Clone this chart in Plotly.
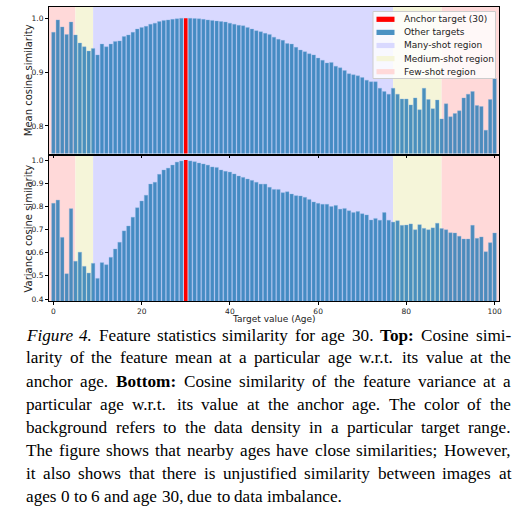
import plotly.graph_objects as go
from plotly.subplots import make_subplots

ages = list(range(0, 101))
anchor_age = 30

mean_sim = [
    0.974, 0.997, 0.984, 0.970, 0.993, 0.969, 0.954, 0.947, 0.939, 0.944,
    0.932, 0.952, 0.947, 0.952, 0.957, 0.958, 0.966, 0.969, 0.974, 0.980,
    0.983, 0.985, 0.989, 0.991, 0.994, 0.996, 0.997, 0.998, 0.999, 1.000,
    1.000, 1.000, 0.9995, 0.999, 0.998, 0.997, 0.996, 0.995, 0.994, 0.993,
    0.991, 0.989, 0.987, 0.986, 0.983, 0.980, 0.977, 0.975, 0.972, 0.970,
    0.965, 0.961, 0.959, 0.953, 0.952, 0.946, 0.941, 0.938, 0.934, 0.932,
    0.926, 0.922, 0.917, 0.918, 0.911, 0.908, 0.903, 0.897, 0.895, 0.893,
    0.890, 0.885, 0.882, 0.882, 0.870, 0.864, 0.859, 0.870, 0.859, 0.850,
    0.850, 0.839, 0.852, 0.830, 0.870, 0.849, 0.832, 0.848, 0.813, 0.841,
    0.817, 0.823, 0.828, 0.852, 0.859, 0.864, 0.838, 0.836, 0.792, 0.849,
    0.888,
]

var_sim = [
    0.813, 0.827, 0.666, 0.509, 0.790, 0.563, 0.602, 0.541, 0.512, 0.554,
    0.489, 0.557, 0.548, 0.580, 0.616, 0.645, 0.694, 0.715, 0.753, 0.794,
    0.823, 0.848, 0.896, 0.904, 0.938, 0.957, 0.965, 0.978, 0.991, 0.996,
    1.000, 0.996, 0.993, 0.987, 0.983, 0.978, 0.970, 0.968, 0.957, 0.951,
    0.948, 0.940, 0.931, 0.925, 0.918, 0.912, 0.904, 0.896, 0.896, 0.882,
    0.873, 0.873, 0.859, 0.863, 0.853, 0.846, 0.845, 0.839, 0.830, 0.819,
    0.813, 0.809, 0.809, 0.799, 0.804, 0.788, 0.791, 0.781, 0.773, 0.778,
    0.768, 0.763, 0.741, 0.748, 0.740, 0.773, 0.740, 0.732, 0.738, 0.718,
    0.719, 0.724, 0.699, 0.721, 0.705, 0.699, 0.707, 0.727, 0.704, 0.699,
    0.686, 0.685, 0.671, 0.659, 0.659, 0.718, 0.662, 0.668, 0.604, 0.643,
    0.685,
]

# region boundaries (age ranges) and their names
regions = [(-1, 5, "few"), (5, 9, "medium"), (9, 77, "many"), (77, 88, "medium"), (88, 101, "few")]
region_colors = {"many": "rgb(217,217,255)", "medium": "rgb(245,245,217)", "few": "rgb(255,217,217)"}

x_ticks = [0, 20, 40, 60, 80, 100]
top_yticks = [0.8, 0.9, 1.0]
bot_yticks = [0.4, 0.5, 0.6, 0.7, 0.8, 0.9, 1.0]

legend_labels = ["Anchor target (30)", "Other targets", "Many-shot region", "Medium-shot region", "Few-shot region"]

caption_lines = [
    "<i>Figure 4.</i> Feature statistics similarity for age 30. <b>Top:</b> Cosine simi-",
    "larity of the feature mean at a particular age w.r.t. its value at the",
    "anchor age. <b>Bottom:</b> Cosine similarity of the feature variance at a",
    "particular age w.r.t. its value at the anchor age. The color of the",
    "background refers to the data density in a particular target range.",
    "The figure shows that nearby ages have close similarities; However,",
    "it also shows that there is unjustified similarity between images at",
    "ages 0 to 6 and age 30, due to data imbalance.",
]

BAR_COLOR = "rgba(31,119,180,0.8)"
ANCHOR_COLOR = "rgb(255,0,0)"

W, H = 524, 518
ML, MR, MT, MB = 49, 25, 7, 217
PW, PH = W - ML - MR, H - MT - MB


def px(X):
    return (X - ML) / PW


def py(Y):
    return (H - MB - Y) / PH


# Times-Roman advance widths (per 1000 em) used to justify the caption lines
TIMES = {
    " ": 250, "!": 333, "(": 333, ")": 333, ",": 250, "-": 333, ".": 250, "/": 278, ":": 278, ";": 278,
    "A": 722, "B": 667, "C": 667, "D": 722, "E": 611, "F": 556, "G": 722, "H": 722, "I": 333, "J": 389,
    "K": 722, "L": 611, "M": 889, "N": 722, "O": 722, "P": 556, "Q": 722, "R": 667, "S": 556, "T": 611,
    "U": 722, "V": 722, "W": 944, "X": 722, "Y": 722, "Z": 611,
    "a": 444, "b": 500, "c": 444, "d": 500, "e": 444, "f": 333, "g": 500, "h": 500, "i": 278, "j": 278,
    "k": 500, "l": 278, "m": 778, "n": 500, "o": 500, "p": 500, "q": 500, "r": 333, "s": 389, "t": 278,
    "u": 500, "v": 500, "w": 722, "x": 500, "y": 500, "z": 444,
}
TIMES_BOLD = {"T": 667, "o": 500, "p": 556, ":": 333, "B": 667, "t": 333, "m": 833}
TIMES_ITAL = {"F": 611, "i": 278, "g": 500, "u": 500, "r": 389, "e": 444, "4": 500, ".": 250}
for d in "0123456789":
    TIMES[d] = 500


def word_width(word, size):
    style = None
    raw = word
    if word.startswith("<b>"):
        style, raw = "b", word[3:-4]
    elif word.startswith("<i>"):
        style, raw = "i", word[3:-4]
    table = TIMES_BOLD if style == "b" else TIMES_ITAL if style == "i" else TIMES
    return sum(table.get(c, TIMES.get(c, 500)) for c in raw) * size / 1000.0


def split_words(line):
    merged = []
    buf = None
    for tok in line.split(" "):
        if buf is not None:
            buf += " " + tok
            if tok.endswith("</i>") or tok.endswith("</b>"):
                merged.append(buf)
                buf = None
            continue
        if (tok.startswith("<i>") and not tok.endswith("</i>")) or (tok.startswith("<b>") and not tok.endswith("</b>")):
            buf = tok
            continue
        merged.append(tok)
    words = []
    for m in merged:
        if m.startswith("<i>") and " " in m:
            for w in m[3:-4].split(" "):
                words.append("<i>" + w + "</i>")
        else:
            words.append(m)
    return words


fig = make_subplots(rows=2, cols=1, shared_xaxes=False)
top_dom = [py(153.5), 1.0]
bot_dom = [0.0, py(156)]

for row, vals in ((1, mean_sim), (2, var_sim)):
    ox = [a for a in ages if a != anchor_age]
    oy = [v for a, v in zip(ages, vals) if a != anchor_age]
    fig.add_trace(go.Bar(x=ox, y=oy, width=0.8, name=legend_labels[1], showlegend=False,
                         marker=dict(color=BAR_COLOR, line=dict(width=0.6, color="rgba(140,180,225,0.6)"))),
                  row=row, col=1)
    fig.add_trace(go.Bar(x=[anchor_age], y=[vals[ages.index(anchor_age)]], width=0.8,
                         name=legend_labels[0], showlegend=False,
                         marker=dict(color=ANCHOR_COLOR, line=dict(width=0))),
                  row=row, col=1)

shapes = []
for xr, yr in (("x", "y domain"), ("x2", "y2 domain")):
    for x0, x1, kind in regions:
        shapes.append(dict(type="rect", xref=xr, yref=yr, x0=x0, x1=x1, y0=0, y1=1,
                           fillcolor=region_colors[kind], line=dict(width=0), layer="below"))

# legend box (drawn manually to match compact matplotlib legend)
shapes.append(dict(type="rect", xref="paper", yref="paper", x0=px(373), x1=px(495.5), y0=py(78.5), y1=py(11.5),
                   fillcolor="rgba(255,255,255,0.8)", line=dict(color="rgb(204,204,204)", width=1), layer="above"))
legend_patch_colors = [ANCHOR_COLOR, "rgb(75,146,195)", region_colors["many"], region_colors["medium"], region_colors["few"]]
annotations = []
row_y = [19.3, 32.4, 45.5, 58.6, 71.7]
for lab, col, Y in zip(legend_labels, legend_patch_colors, row_y):
    shapes.append(dict(type="rect", xref="paper", yref="paper", x0=px(376.5), x1=px(394.5), y0=py(Y + 2.6), y1=py(Y - 2.6),
                       fillcolor=col, line=dict(width=0), layer="above"))
    annotations.append(dict(text=lab, xref="paper", yref="paper", x=px(401.5), y=py(Y), xanchor="left", yanchor="middle",
                            showarrow=False, font=dict(family="DejaVu Sans", size=9, color="#222")))

# y-axis titles
annotations.append(dict(text="Mean cosine similarity", xref="paper", yref="paper", x=0, xshift=28 - ML,
                        y=(top_dom[0] + top_dom[1]) / 2, textangle=-90, showarrow=False,
                        xanchor="center", yanchor="middle",
                        font=dict(family="DejaVu Sans", size=10, color="#222")))
annotations.append(dict(text="Variance cosine similarity", xref="paper", yref="paper", x=0, xshift=28 - ML,
                        y=(bot_dom[0] + bot_dom[1]) / 2, textangle=-90, showarrow=False,
                        xanchor="center", yanchor="middle",
                        font=dict(family="DejaVu Sans", size=10, color="#222")))
annotations.append(dict(text="Target value (Age)", xref="paper", yref="paper", x=0.5, y=py(319),
                        xanchor="center", yanchor="middle", showarrow=False,
                        font=dict(family="DejaVu Sans", size=9, color="#222")))

# caption, justified word by word between X=25 and X=510 (last line left-aligned)
CAP_SIZE = 17.2
CAP_L, CAP_R = 25.0, 510.0
for i, line in enumerate(caption_lines):
    words = split_words(line)
    widths = [word_width(w, CAP_SIZE) for w in words]
    last = i == len(caption_lines) - 1
    if last or len(words) < 2:
        gap = 0.25 * CAP_SIZE
    else:
        gap = (CAP_R - CAP_L - sum(widths)) / (len(words) - 1)
    X = CAP_L
    for w, wd in zip(words, widths):
        annotations.append(dict(text=w, xref="paper", yref="paper", x=px(X), y=py(335 + 23 * i),
                                xanchor="left", yanchor="middle", showarrow=False, borderpad=0,
                                font=dict(family="Liberation Serif", size=CAP_SIZE, color="black")))
        X += wd + gap

axis_common = dict(showline=True, linecolor="black", linewidth=1, mirror=True, ticks="outside", ticklen=3,
                   tickwidth=1, tickcolor="black", showgrid=False, zeroline=False,
                   tickfont=dict(family="DejaVu Sans", size=7.5, color="#222"))

fig.update_layout(
    width=W, height=H, margin=dict(l=ML, r=MR, t=MT, b=MB, autoexpand=False), paper_bgcolor="white",
    plot_bgcolor="white", barmode="overlay", showlegend=False, shapes=shapes, annotations=annotations,
    xaxis=dict(domain=[0, 1], range=[-1, 101], tickvals=x_ticks, showticklabels=False, anchor="y", **axis_common),
    yaxis=dict(domain=top_dom, range=[0.7487, 1.021], tickvals=top_yticks, tickformat=".1f", anchor="x", **axis_common),
    xaxis2=dict(domain=[0, 1], range=[-1, 101], tickvals=x_ticks, anchor="y2", **axis_common),
    yaxis2=dict(domain=bot_dom, range=[0.3914, 1.0173], tickvals=bot_yticks, tickformat=".1f", anchor="x2", **axis_common),
)

fig.write_html("out.html", config={"displayModeBar": False},
               post_script="document.body.style.margin='0';document.body.style.padding='0';")
